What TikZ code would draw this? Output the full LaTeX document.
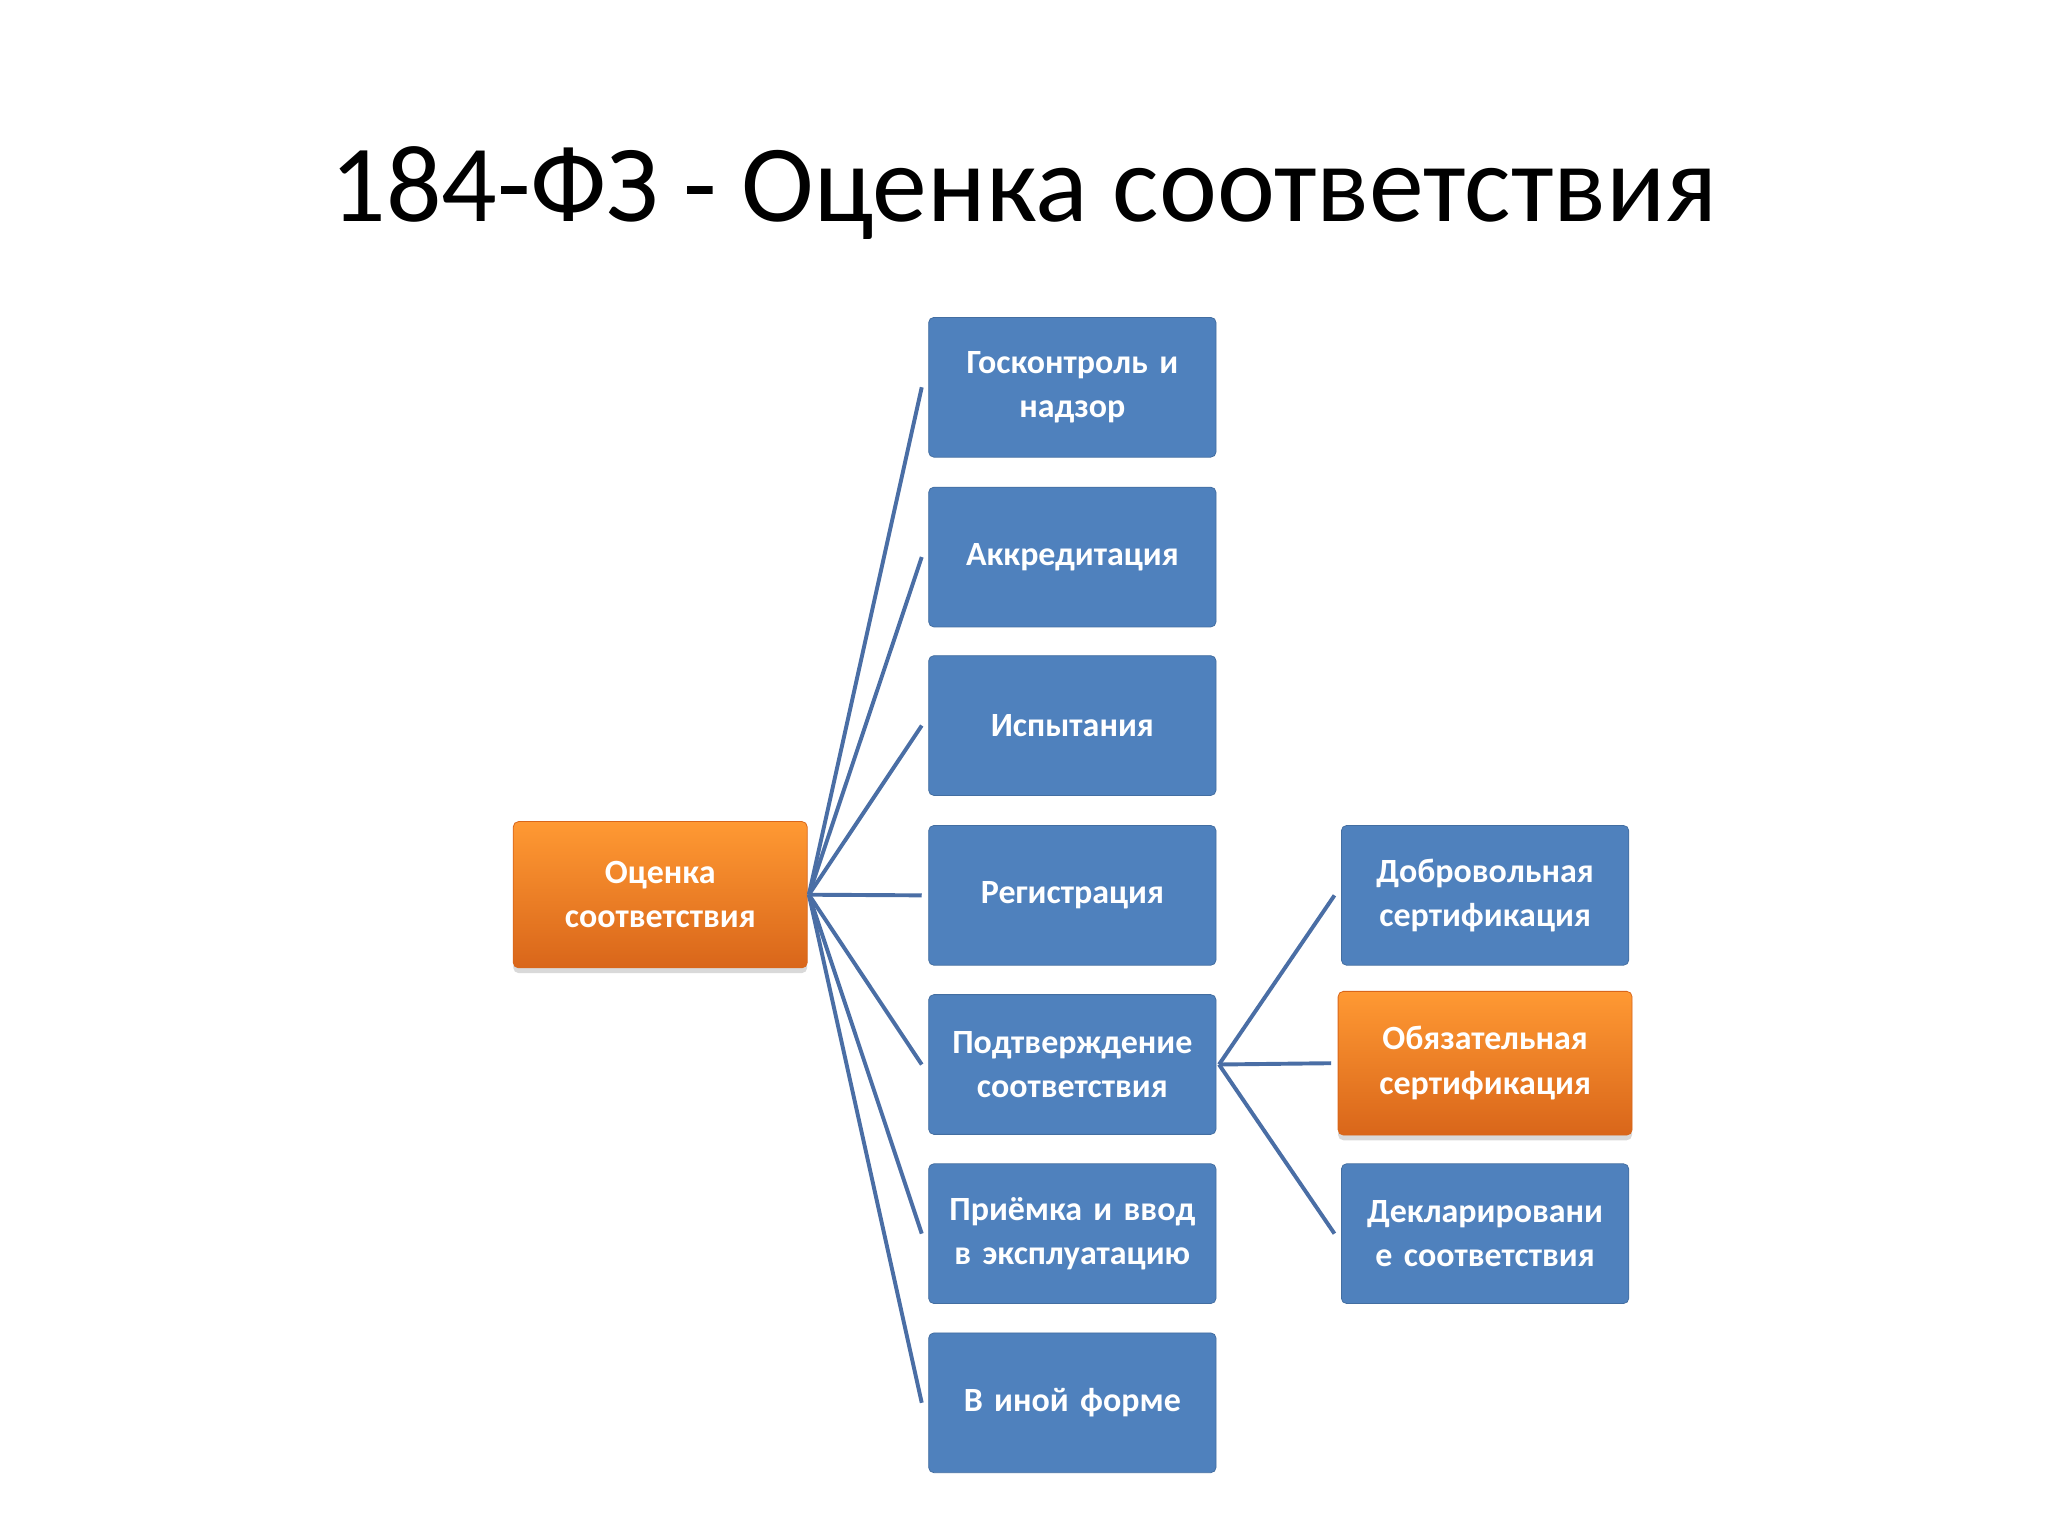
\documentclass[tikz,border=0pt]{standalone}
\usepackage{fontspec}
\setmainfont{Carlito}
\usetikzlibrary{shadows}
\definecolor{bluebox}{HTML}{4F81BD}
\definecolor{blueline}{HTML}{4A6EA5}
\definecolor{orangetop}{HTML}{FF9933}
\definecolor{orangebot}{HTML}{D9661A}
\begin{document}
\begin{tikzpicture}[x=1pt,y=-1pt,
  bbox/.style={rounded corners=4pt, fill=bluebox, draw=bluebox!85!black, line width=0.6pt,
    minimum width=220pt, minimum height=107pt, text width=216pt, align=center,
    text=white, font=\bfseries\fontsize{26}{34}\selectfont, inner sep=0pt},
  obox/.style={bbox, fill=none, top color=orangetop, bottom color=orangebot, draw=orangebot,
    drop shadow={shadow xshift=0pt, shadow yshift=-4pt, opacity=0.3}},
  conn/.style={draw=blueline, line width=3pt}]
\useasboundingbox (0,0) rectangle (1568,1176);
\node[font=\fontsize{84}{96}\selectfont] (title) at (784,148) {184-ФЗ - Оценка соответствия};
\node[obox, minimum width=225pt, minimum height=112pt] (root) at (505.5,685) {Оценка\\соответствия};
\node[bbox] (m1) at (821,296.5) {Госконтроль и\\надзор};
\node[bbox] (m2) at (821,426.5) {Аккредитация};
\node[bbox] (m3) at (821,555.5) {Испытания};
\node[bbox] (m4) at (821,685.5) {Регистрация};
\node[bbox] (m5) at (821,815) {Подтверждение\\соответствия};
\node[bbox] (m6) at (821,944.5) {Приёмка и ввод\\в эксплуатацию};
\node[bbox] (m7) at (821,1074) {В иной форме};
\node[bbox] (r1) at (1137,685.5) {Добровольная\\сертификация};
\node[obox, minimum width=225pt, minimum height=110pt] (r2) at (1137,814) {Обязательная\\сертификация};
\node[bbox] (r3) at (1137,944.5) {Декларировани\\е соответствия};
\coordinate (rs) at ([xshift=1pt]root.east);
\foreach \n in {m1,m2,m3,m4,m5,m6,m7}
  \draw[conn] (rs) -- ([xshift=-5pt]\n.west);
\coordinate (ms) at ([xshift=2pt]m5.east);
\foreach \n in {r1,r2,r3}
  \draw[conn] (ms) -- ([xshift=-5pt]\n.west);
\end{tikzpicture}
\end{document}
